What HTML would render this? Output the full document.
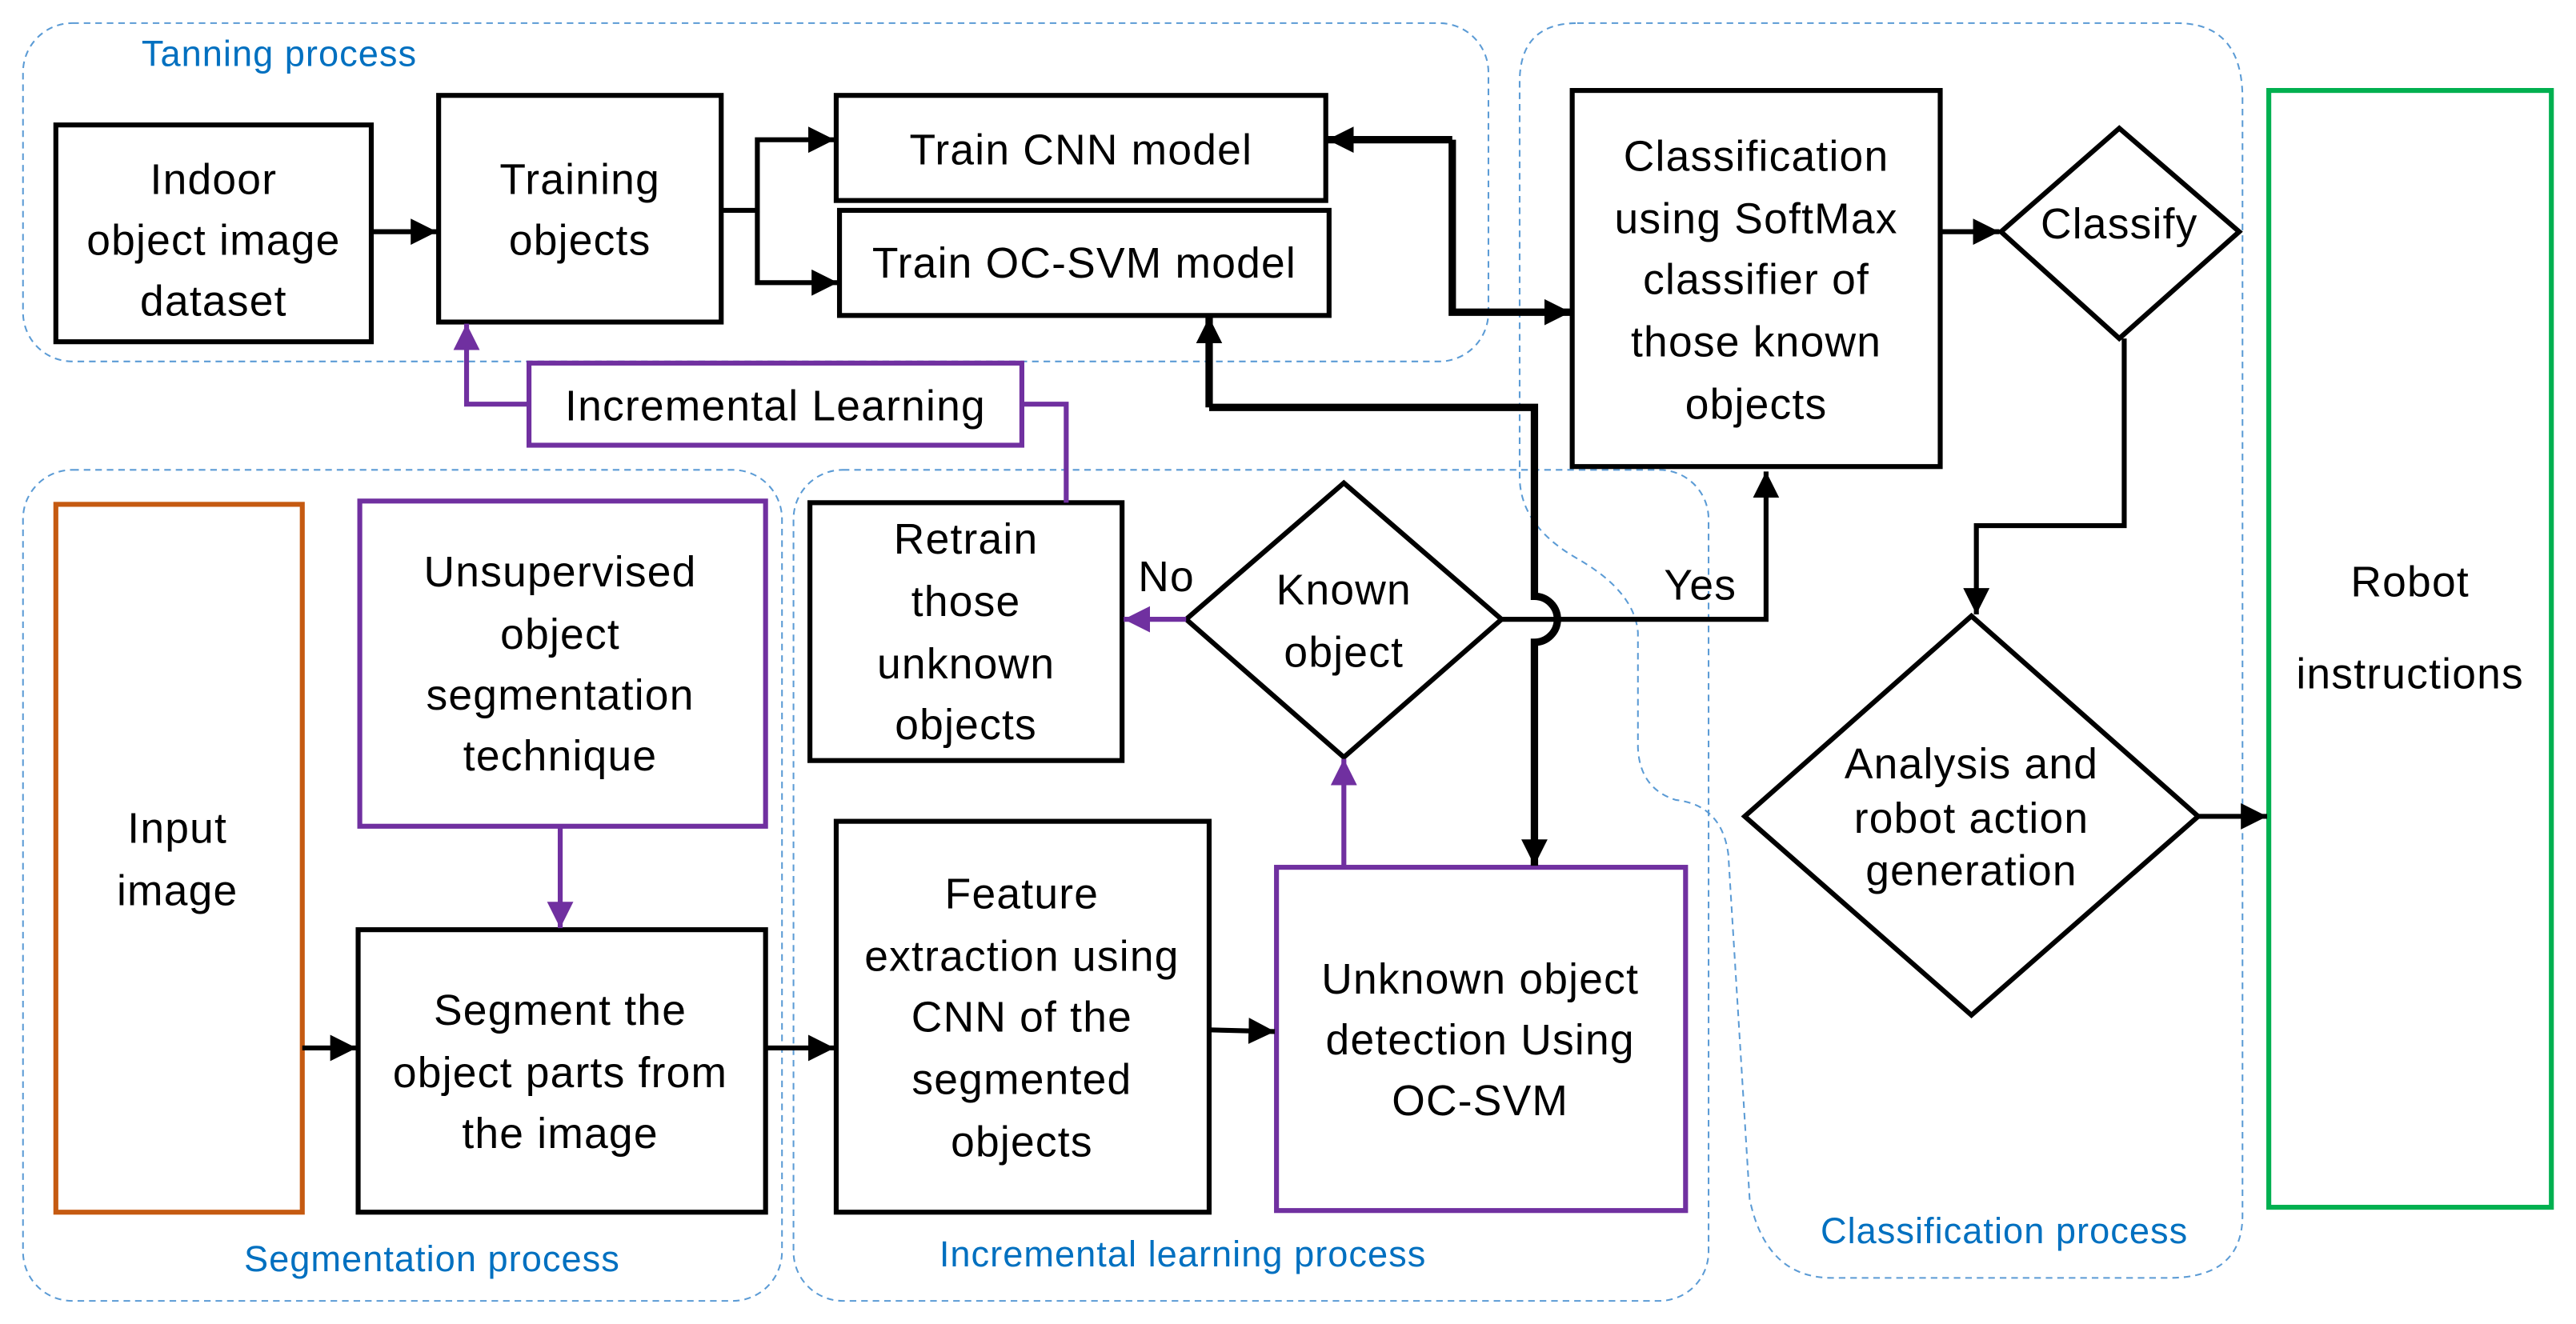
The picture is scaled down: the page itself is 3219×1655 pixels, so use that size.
<!DOCTYPE html>
<html><head><meta charset="utf-8"><style>
html,body{margin:0;padding:0;background:#fff;}
svg{display:block;}
text{font-family:"Liberation Sans",sans-serif;font-size:26px;letter-spacing:0.6px;fill:#000;text-anchor:middle;}
.lbl{fill:#0070C0;font-size:22px;letter-spacing:0.5px;}
</style></head><body>
<svg width="3219" height="1655" viewBox="0 0 1568 806" xmlns="http://www.w3.org/2000/svg">
<defs>
<marker id="a" viewBox="0 0 10 10" refX="10" refY="5" markerWidth="16" markerHeight="16" orient="auto" markerUnits="userSpaceOnUse"><path d="M0,0 L10,5 L0,10 z" fill="#000"/></marker>
<marker id="ap" viewBox="0 0 10 10" refX="10" refY="5" markerWidth="16" markerHeight="16" orient="auto" markerUnits="userSpaceOnUse"><path d="M0,0 L10,5 L0,10 z" fill="#7030A0"/></marker>
</defs>
<g fill="none" stroke="#5B9BD5" stroke-width="1" stroke-dasharray="4,3">
<rect x="14" y="14" width="892" height="206" rx="30"/>
<rect x="14" y="286" width="462" height="506" rx="30"/>
<rect x="483" y="286" width="557" height="506" rx="30"/>
<path d="M960,14 H1325 Q1365,14 1365,60 V740 Q1365,778 1320,778 H1115 Q1075,778 1065,730 L1052,520 Q1048,490 1020,487 Q998,480 997,455 L997,385 Q995,360 960,340 Q925,320 925,290 L925,50 Q925,14 960,14 Z"/>
</g>
<text class="lbl" x="170" y="40">Tanning process</text>
<text class="lbl" x="263" y="774">Segmentation process</text>
<text class="lbl" x="720" y="771">Incremental learning process</text>
<text class="lbl" x="1220" y="757">Classification process</text>

<g fill="#fff" stroke="#000" stroke-width="3">
<rect x="34" y="76" width="192" height="132"/>
<rect x="267" y="58" width="172" height="138"/>
<rect x="509" y="58" width="298" height="64"/>
<rect x="511" y="128" width="298" height="64"/>
<rect x="957" y="55" width="224" height="229"/>
<polygon points="1218,141 1290,78 1363,141 1290,206"/>
<polygon points="1062,497 1200,375 1338,497 1200,618"/>
<polygon points="722,377 818,294 914,377 818,461"/>
<rect x="493" y="306" width="190" height="157"/>
<rect x="218" y="566" width="248" height="172"/>
<rect x="509" y="500" width="227" height="238"/>
</g>
<rect x="34" y="307" width="150" height="431" fill="#fff" stroke="#C55A11" stroke-width="3"/>
<rect x="219" y="305" width="247" height="198" fill="#fff" stroke="#7030A0" stroke-width="3"/>
<rect x="777" y="528" width="249" height="209" fill="#fff" stroke="#7030A0" stroke-width="3"/>
<rect x="322" y="221" width="300" height="50" fill="#fff" stroke="#7030A0" stroke-width="3"/>
<rect x="1381" y="55" width="172" height="680" fill="#fff" stroke="#00B050" stroke-width="3"/>

<g fill="none" stroke="#000" stroke-width="3">
<line x1="226" y1="141" x2="266" y2="141" marker-end="url(#a)"/>
<path d="M439,128 H461 V85 H508" marker-end="url(#a)"/>
<path d="M461,128 V172 H510" marker-end="url(#a)"/>
<line x1="1181" y1="141" x2="1217" y2="141" marker-end="url(#a)"/>
<path d="M1293,206 V320 H1203 V374" marker-end="url(#a)"/>
<line x1="1338" y1="497" x2="1380" y2="497" marker-end="url(#a)"/>
<line x1="184" y1="638" x2="217" y2="638" marker-end="url(#a)"/>
<line x1="466" y1="638" x2="508" y2="638" marker-end="url(#a)"/>
<line x1="736" y1="627" x2="776" y2="628" marker-end="url(#a)"/>
<path d="M914,377 H1075 V287" marker-end="url(#a)"/>
</g>
<g fill="none" stroke="#000" stroke-width="4.5">
<path d="M884,85 H808" marker-end="url(#a)"/>
<path d="M884,85 V190 H956" marker-end="url(#a)"/>
<path d="M736,248 V193" marker-end="url(#a)"/>
<path d="M736,248 H934 V363 A14,14 0 0 1 934,391 V527" marker-end="url(#a)"/>
</g>
<g fill="none" stroke="#7030A0" stroke-width="3">
<line x1="341" y1="503" x2="341" y2="565" marker-end="url(#ap)"/>
<line x1="818" y1="528" x2="818" y2="462" marker-end="url(#ap)"/>
<line x1="722" y1="377" x2="684" y2="377" marker-end="url(#ap)"/>
<path d="M649,306 V246 H622"/>
<path d="M322,246 H284 V197" marker-end="url(#ap)"/>
</g>

<text x="130" y="118">Indoor</text><text x="130" y="155">object image</text><text x="130" y="192">dataset</text>
<text x="353" y="118">Training</text><text x="353" y="155">objects</text>
<text x="658" y="100">Train CNN model</text>
<text x="660" y="169">Train OC-SVM model</text>
<text x="1069" y="104">Classification</text><text x="1069" y="142">using SoftMax</text><text x="1069" y="179">classifier of</text><text x="1069" y="217">those known</text><text x="1069" y="255">objects</text>
<text x="1290" y="145">Classify</text>
<text x="1200" y="474">Analysis and</text><text x="1200" y="507">robot action</text><text x="1200" y="539">generation</text>
<text x="1467" y="363">Robot</text><text x="1467" y="419">instructions</text>
<text x="472" y="256">Incremental Learning</text>
<text x="818" y="368">Known</text><text x="818" y="406">object</text>
<text x="710" y="360">No</text>
<text x="1035" y="365">Yes</text>
<text x="588" y="337">Retrain</text><text x="588" y="375">those</text><text x="588" y="413">unknown</text><text x="588" y="450">objects</text>
<text x="108" y="513">Input</text><text x="108" y="551">image</text>
<text x="341" y="357">Unsupervised</text><text x="341" y="395">object</text><text x="341" y="432">segmentation</text><text x="341" y="469">technique</text>
<text x="341" y="624">Segment the</text><text x="341" y="662">object parts from</text><text x="341" y="699">the image</text>
<text x="622" y="553">Feature</text><text x="622" y="591">extraction using</text><text x="622" y="628">CNN of the</text><text x="622" y="666">segmented</text><text x="622" y="704">objects</text>
<text x="901" y="605">Unknown object</text><text x="901" y="642">detection Using</text><text x="901" y="679">OC-SVM</text>
</svg>
</body></html>
